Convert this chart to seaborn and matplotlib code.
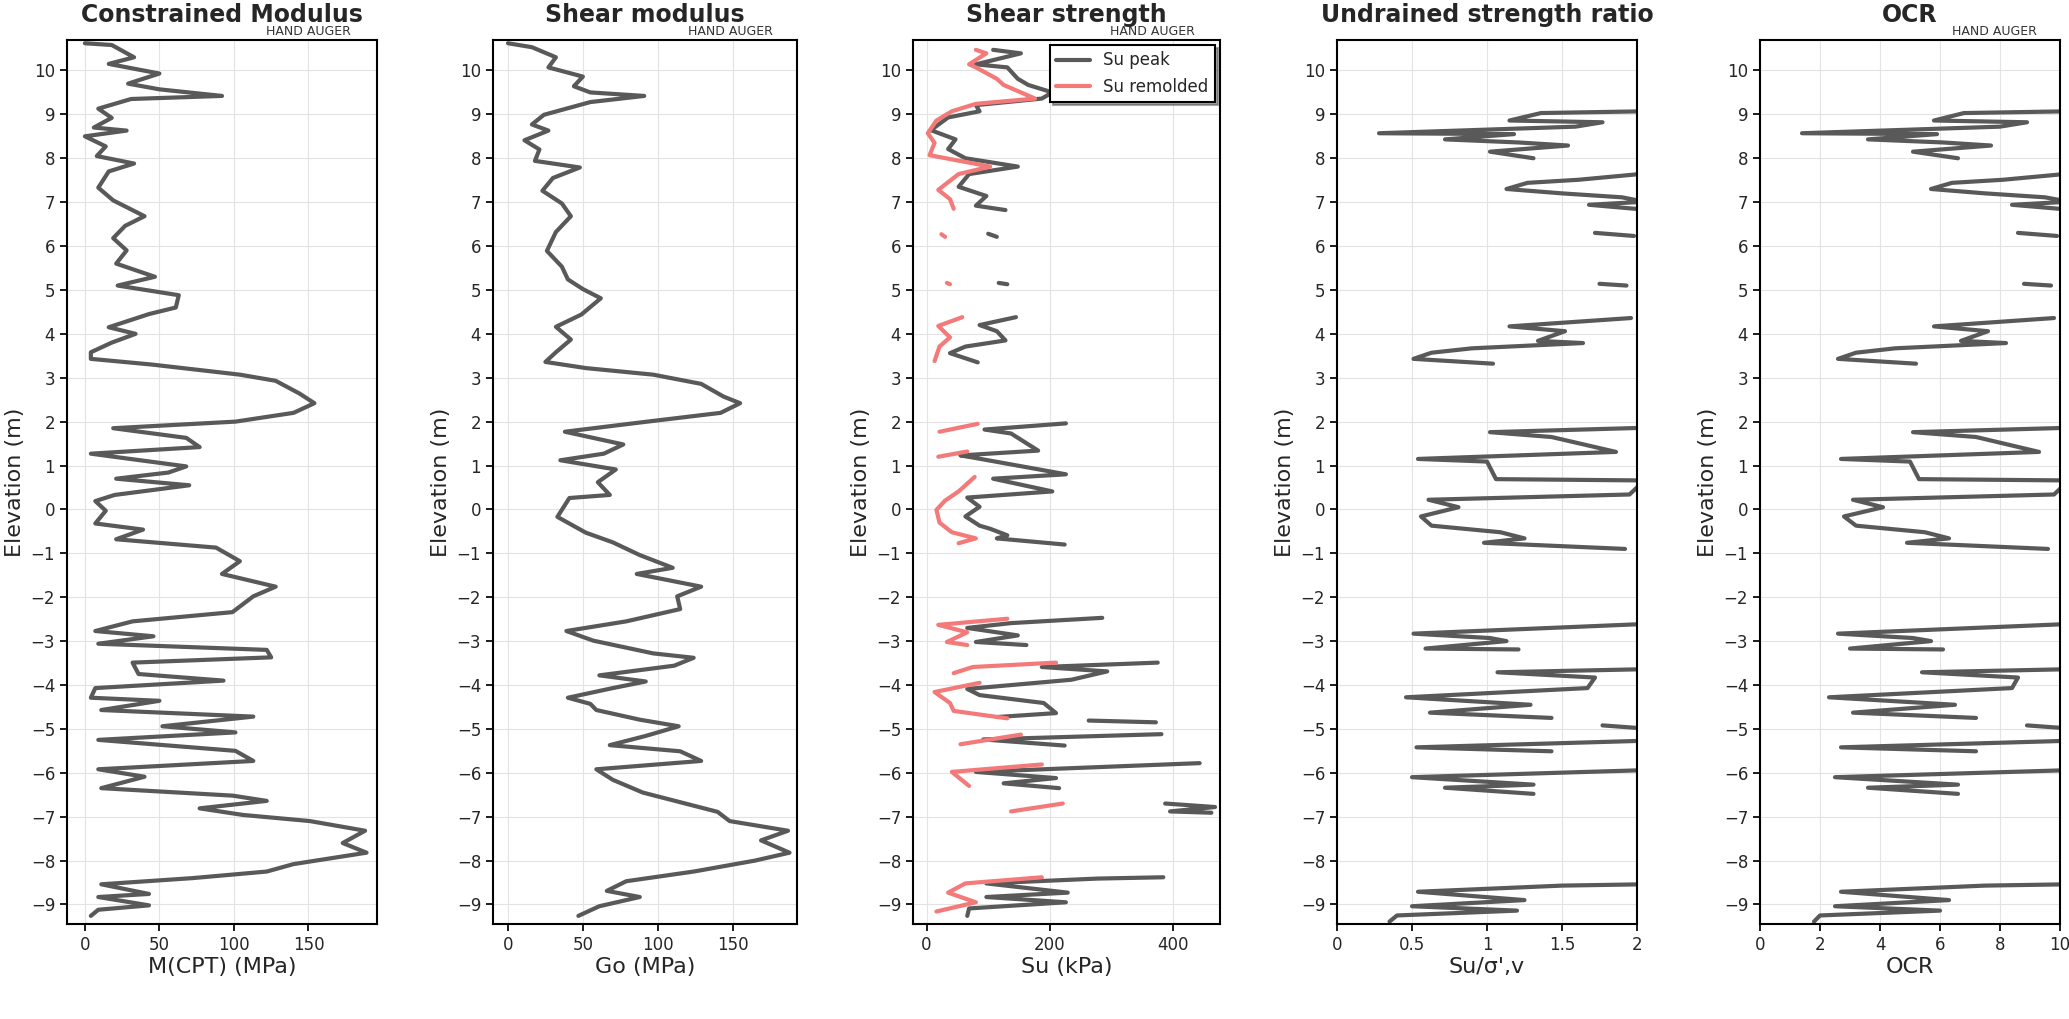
import numpy as np
import pandas as pd
import matplotlib
matplotlib.use("Agg")
import matplotlib.pyplot as plt
import seaborn as sns

# ---- data ----
m_elev = [10.62, 10.58, 10.3, 10.15, 9.93, 9.7, 9.57, 9.42, 9.35, 9.13, 8.92, 8.7, 8.63, 8.5, 8.27, 8.05,
          7.88, 7.7, 7.33, 7.04, 6.68, 6.46, 6.18, 5.9, 5.6, 5.3, 5.1, 4.88, 4.6, 4.45, 4.15, 4.0, 3.8, 3.58,
          3.43, 3.3, 3.07, 2.93, 2.64, 2.42, 2.2, 2.0, 1.85, 1.63, 1.42, 1.27, 0.98, 0.84, 0.7, 0.55, 0.33,
          0.19, -0.03, -0.32, -0.46, -0.68, -0.87, -1.18, -1.47, -1.76, -1.98, -2.34, -2.55, -2.77, -2.89,
          -3.06, -3.2, -3.37, -3.49, -3.75, -3.9, -4.07, -4.29, -4.36, -4.57, -4.72, -4.94, -5.08, -5.25,
          -5.5, -5.73, -5.92, -6.09, -6.35, -6.52, -6.64, -6.81, -6.96, -7.1, -7.32, -7.6, -7.82, -8.08,
          -8.25, -8.4, -8.54, -8.76, -8.83, -9.02, -9.12, -9.26]
m_cpt = [0, 18, 33, 16, 50, 29, 50, 92, 31, 9, 18, 6, 28, 0, 14, 8, 33, 16, 9, 19, 40, 27, 19, 28, 21, 47,
         22, 63, 61, 43, 16, 34, 18, 4, 4, 45, 104, 128, 144, 154, 140, 101, 19, 68, 77, 4, 68, 56, 21, 70,
         20, 7, 14, 7, 39, 21, 88, 104, 92, 128, 113, 99, 32, 7, 46, 9, 122, 125, 32, 36, 93, 7, 4, 50, 11,
         113, 52, 101, 9, 101, 113, 9, 40, 11, 99, 122, 77, 106, 151, 188, 173, 189, 140, 122, 72, 11, 43,
         9, 43, 9, 4]

go_elev = [10.62, 10.53, 10.3, 10.07, 9.86, 9.64, 9.5, 9.42, 9.28, 8.99, 8.77, 8.63, 8.41, 8.2, 7.94, 7.79,
           7.55, 7.26, 6.97, 6.68, 6.32, 5.89, 5.53, 5.24, 5.02, 4.81, 4.44, 4.16, 3.87, 3.58, 3.36, 3.22,
           3.07, 2.86, 2.57, 2.42, 2.2, 2.0, 1.77, 1.48, 1.27, 1.12, 0.91, 0.62, 0.33, 0.26, -0.17, -0.53,
           -0.75, -1.04, -1.33, -1.47, -1.76, -1.98, -2.27, -2.55, -2.77, -2.99, -3.28, -3.38, -3.56, -3.78,
           -3.92, -4.07, -4.29, -4.43, -4.57, -4.79, -4.94, -5.16, -5.37, -5.51, -5.73, -5.92, -6.16, -6.45,
           -6.67, -6.89, -7.1, -7.32, -7.54, -7.82, -8.0, -8.25, -8.47, -8.69, -8.83, -9.04, -9.26]
go_mpa = [0, 16, 32, 27, 50, 44, 55, 91, 55, 24, 16, 27, 11, 21, 18, 48, 30, 23, 36, 42, 32, 26, 36, 40, 50,
          62, 49, 32, 42, 32, 25, 52, 97, 129, 144, 155, 142, 93, 38, 77, 64, 35, 72, 60, 68, 41, 33, 52, 70,
          88, 110, 86, 129, 113, 115, 79, 39, 57, 97, 124, 111, 61, 92, 70, 40, 55, 59, 88, 114, 92, 68, 115,
          129, 59, 70, 90, 115, 140, 148, 187, 169, 188, 165, 124, 79, 66, 88, 61, 47]

N = None
su_elev = [10.47, 10.39, 10.14, 10.07, 9.81, 9.67, 9.5, 9.36, 9.21, 9.07, 8.93, 8.64, 8.43, 8.21, 8.0, 7.81,
           7.64, 7.35, 7.14, 6.92, 6.82, N, 6.28, 6.21, N, 5.16, 5.13, N, 4.38, 4.2, 4.06, 3.85, 3.71, 3.56,
           3.35, N, 1.96, 1.82, 1.73, 1.34, 1.23, 1.17, 0.8, 0.7, 0.41, 0.27, 0.06, -0.16, -0.37, -0.44,
           -0.59, -0.66, -0.8, N, -2.47, -2.59, -2.7, -2.87, -3.02, -3.09, N, -3.49, -3.59, -3.69, -3.88,
           -4.09, -4.23, -4.41, -4.64, -4.73, N, -4.81, -4.85, N, -5.12, -5.24, -5.38, N, -5.78, -5.98, -6.12,
           -6.24, -6.35, N, -6.7, -6.78, -6.88, -6.91, N, -8.38, -8.41, -8.52, -8.73, -8.83, -8.95, -9.09, -9.26]
su_peak = [108, 153, 80, 131, 148, 165, 204, 187, 80, 86, 35, 7, 47, 35, 63, 148, 69, 52, 97, 80, 128, N,
           100, 114, N, 117, 131, N, 145, 86, 114, 128, 63, 38, 83, N, 226, 94, 137, 181, 55, 80, 226, 108,
           204, 66, 86, 63, 86, 103, 131, 114, 224, N, 285, 137, 66, 148, 80, 162, N, 375, 187, 293, 235, 66,
           86, 190, 210, 114, N, 263, 372, N, 381, 92, 224, N, 443, 80, 210, 125, 215, N, 387, 468, 395, 462,
           N, 384, 277, 97, 229, 97, 226, 69, 66]

sr_elev = [10.47, 10.39, 10.14, 10.07, 9.81, 9.67, 9.36, 9.24, 9.07, 8.86, 8.57, 8.35, 8.07, 7.81, 7.64, 7.28,
           7.07, 6.85, N, 6.27, 6.21, N, 5.16, 5.13, N, 4.38, 4.18, 3.92, 3.71, 3.38, N, 1.95, 1.77, N, 1.32,
           1.2, N, 0.74, 0.41, 0.2, -0.01, -0.3, -0.52, -0.66, -0.77, N, -2.49, -2.63, -2.8, -3.02, -3.09, N,
           -3.49, -3.59, -3.73, N, -3.95, -4.16, -4.41, -4.59, -4.76, N, -5.13, -5.35, N, -5.81, -5.98, -6.3,
           N, -6.7, -6.88, N, -8.38, -8.52, -8.73, -8.95, -9.16]
su_rem = [80, 97, 69, 80, 114, 125, 176, 80, 41, 16, 2, 13, 5, 103, 52, 19, 38, 44, N, 24, 30, N, 33, 38, N,
          58, 19, 38, 21, 13, N, 83, 21, N, 66, 19, N, 78, 52, 30, 16, 21, 41, 80, 52, N, 131, 19, 66, 33,
          66, N, 210, 75, 44, N, 86, 13, 38, 44, 131, N, 153, 55, N, 187, 41, 69, N, 221, 137, N, 187, 63,
          35, 80, 16]

ratio_elev = [9.07, 9.03, 8.86, 8.82, 8.72, 8.57, 8.55, 8.43, 8.36, 8.29, 8.15, 8.0, N, 7.65, 7.51, 7.44, 7.3,
              7.2, 7.11, 7.01, 6.94, 6.83, N, 6.3, 6.23, N, 5.14, 5.1, N, 4.36, 4.17, 4.06, 3.84, 3.79, 3.67,
              3.57, 3.43, 3.32, N, 1.86, 1.76, 1.65, 1.31, 1.15, 1.09, 0.69, 0.66, 0.34, 0.22, 0.05, -0.16,
              -0.37, -0.52, -0.66, -0.76, -0.9, N, -2.61, -2.83, -2.93, -3.0, -3.17, -3.19, N, -3.64, -3.71,
              -3.83, -4.07, -4.28, -4.45, -4.63, -4.75, N, -4.92, -4.99, N, -5.27, -5.42, -5.51, N, -5.94,
              -6.1, -6.27, -6.34, -6.48, N, -8.54, -8.57, -8.71, -8.9, -9.04, -9.14, -9.25, -9.39]
su_ratio = [2.05, 1.36, 1.15, 1.77, 1.59, 0.28, 1.18, 0.72, 1.21, 1.54, 1.02, 1.31, N, 2.05, 1.61, 1.27, 1.13,
            1.5, 1.9, 2.05, 1.68, 2.05, N, 1.72, 1.98, N, 1.75, 1.93, N, 1.96, 1.15, 1.52, 1.34, 1.64, 0.9,
            0.63, 0.51, 1.04, N, 2.05, 1.02, 1.43, 1.86, 0.54, 1.0, 1.06, 2.05, 1.95, 0.61, 0.81, 0.56, 0.63,
            1.09, 1.25, 0.98, 1.92, N, 2.05, 0.51, 1.02, 1.13, 0.59, 1.21, N, 2.05, 1.07, 1.72, 1.67, 0.46,
            1.29, 0.62, 1.43, N, 1.77, 2.05, N, 2.05, 0.53, 1.43, N, 2.05, 0.5, 1.31, 0.72, 1.31, N, 2.05,
            1.5, 0.54, 1.25, 0.5, 1.2, 0.4, 0.35]
ocr = [10.3, 6.8, 5.8, 8.9, 8.0, 1.4, 5.9, 3.6, 6.1, 7.7, 5.1, 6.6, N, 10.3, 8.1, 6.4, 5.7, 7.5, 9.5, 10.3,
       8.4, 10.3, N, 8.6, 9.9, N, 8.8, 9.7, N, 9.8, 5.8, 7.6, 6.7, 8.2, 4.5, 3.2, 2.6, 5.2, N, 10.3, 5.1, 7.2,
       9.3, 2.7, 5.0, 5.3, 10.3, 9.8, 3.1, 4.1, 2.8, 3.2, 5.5, 6.3, 4.9, 9.6, N, 10.3, 2.6, 5.1, 5.7, 3.0,
       6.1, N, 10.3, 5.4, 8.6, 8.4, 2.3, 6.5, 3.1, 7.2, N, 8.9, 10.3, N, 10.3, 2.7, 7.2, N, 10.3, 2.5, 6.6,
       3.6, 6.6, N, 10.3, 7.5, 2.7, 6.3, 2.5, 6.0, 2.0, 1.8]


def segments(elev, vals):
    rows, seg = [], 0
    for e, v in zip(elev, vals):
        if e is None:
            seg += 1
            continue
        rows.append((seg, e, v))
    return pd.DataFrame(rows, columns=["seg", "elev", "val"])


GREY = "#595959"
RED = "#f47a7a"

sns.set_theme(style="whitegrid")
plt.rcParams["font.family"] = ["DejaVu Sans"]
fig = plt.figure(figsize=(20.69, 10.19), dpi=100)

lefts = [67, 493, 913, 1337, 1760]
widths = [310, 304, 307, 300, 300]
panels = [
    ("Constrained Modulus", "M(CPT) (MPa)", (-12, 196), [0, 50, 100, 150], True),
    ("Shear modulus", "Go (MPa)", (-10, 193), [0, 50, 100, 150], True),
    ("Shear strength", "Su (kPa)", (-22, 476), [0, 200, 400], True),
    ("Undrained strength ratio", "Su/σ',v", (0, 2), [0, 0.5, 1, 1.5, 2], False),
    ("OCR", "OCR", (0, 10), [0, 2, 4, 6, 8, 10], True),
]
series = [
    [(segments(m_elev, m_cpt), GREY)],
    [(segments(go_elev, go_mpa), GREY)],
    [(segments(su_elev, su_peak), GREY), (segments(sr_elev, su_rem), RED)],
    [(segments(ratio_elev, su_ratio), GREY)],
    [(segments(ratio_elev, ocr), GREY)],
]

for i, (title, xlabel, xlim, xticks, auger) in enumerate(panels):
    ax = fig.add_axes([lefts[i] / 2069, 0.093, widths[i] / 2069, 0.868])
    for df, col in series[i]:
        sns.lineplot(data=df, x="val", y="elev", units="seg", estimator=None, sort=False,
                     orient="y", color=col, lw=3, ax=ax, legend=False)
    ax.set_xlim(*xlim)
    ax.set_ylim(-9.45, 10.7)
    ax.set_xticks(xticks)
    ax.set_yticks(range(-9, 11))
    ax.set_xticklabels([f"{t:g}" for t in xticks])
    ax.grid(True, color="#e3e3e3", lw=0.8)
    for s in ax.spines.values():
        s.set_color("black")
        s.set_linewidth(1.5)
    ax.tick_params(axis="both", labelsize=12, length=5, color="black", bottom=True, left=True)
    ax.set_xlabel(xlabel, fontsize=16, labelpad=2)
    ax.set_ylabel("Elevation (m)", fontsize=16)
    ax.set_title(title, fontsize=17, fontweight="bold", pad=13)
    if auger:
        ax.text(0.78, 1.002, "HAND AUGER", transform=ax.transAxes, ha="center", va="bottom",
                fontsize=9, color="#333333")
    if i == 2:
        ax.plot([], [], color=GREY, lw=3, label="Su peak")
        ax.plot([], [], color=RED, lw=3, label="Su remolded")
        leg = ax.legend(loc="upper right", fontsize=12, fancybox=False, shadow=True,
                        framealpha=1, borderaxespad=0.3)
        leg.get_frame().set_edgecolor("black")
        leg.get_frame().set_linewidth(1.5)

fig.savefig("out.png", dpi=100)
